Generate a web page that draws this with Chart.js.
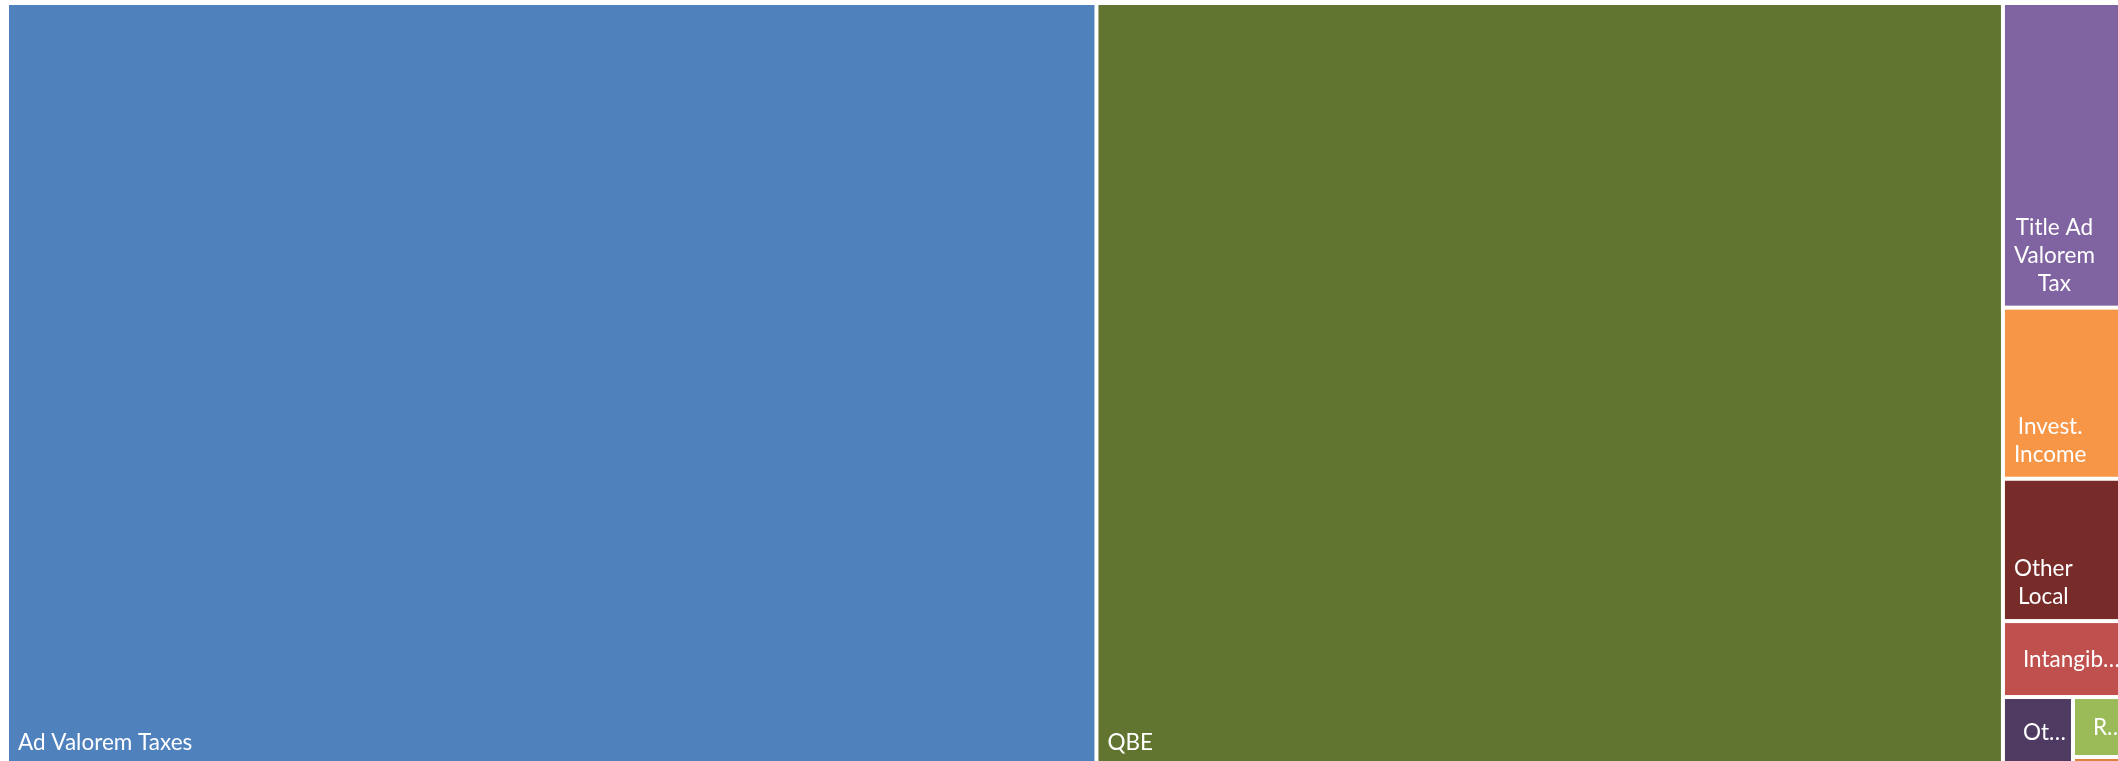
<!DOCTYPE html>
<html>
<head>
<meta charset="utf-8">
<script src="https://cdn.jsdelivr.net/npm/chart.js@4.4.1/dist/chart.umd.min.js"></script>
<style>
  html, body { margin: 0; padding: 0; background: #fff; overflow: hidden; }
  #wrap { width: 2118px; height: 761px; position: relative; }
</style>
</head>
<body>
<div id="wrap"><canvas id="c"></canvas></div>
<script>
const LABELS = ["Ad Valorem Taxes", "QBE", "Title Ad Valorem Tax", "Invest. Income", "Other Local", "Intangib…", "Ot…", "R…", ""];
const VALUES = [8324, 6926, 381, 214, 178, 95, 49, 33, 5.5];
const COLORS = ["#4F81BD", "#617530", "#8064A2", "#F79646", "#772C2A", "#C0504D", "#4F3A62", "#9BBB59", "#E0803C"];

// treemap frame in axis units; the right / bottom edge runs past the visible range
const FRAME = { x: 7, y: 3, w: 2121, h: 764 };
const X_RANGE = [0, 2118];
const Y_RANGE = [0, 761];

const $ = (id) => document.getElementById(id);

function worst(row, side) {
  const s = row.reduce((a, b) => a + b, 0);
  let m = 0;
  for (const r of row) {
    m = Math.max(m, (side * side * r) / (s * s), (s * s) / (side * side * r));
  }
  return m;
}

// plain squarified layout
function squarify(values, frame) {
  const total = values.reduce((a, b) => a + b, 0);
  const k = (frame.w * frame.h) / total;
  const areas = values.map(v => v * k);
  let { x, y, w, h } = frame;
  const rects = [];
  let i = 0;
  while (i < areas.length) {
    const side = Math.min(w, h);
    const row = [areas[i]];
    let j = i + 1;
    while (j < areas.length && worst([...row, areas[j]], side) <= worst(row, side)) {
      row.push(areas[j]);
      j++;
    }
    const thick = row.reduce((a, b) => a + b, 0) / side;
    if (w >= h) {
      let yy = y;
      row.forEach(a => { const hh = a / thick; rects.push({ x, y: yy, w: thick, h: hh }); yy += hh; });
      x += thick; w -= thick;
    } else {
      let xx = x;
      row.forEach(a => { const ww = a / thick; rects.push({ x: xx, y, w: ww, h: thick }); xx += ww; });
      y += thick; h -= thick;
    }
    i = j;
  }
  return rects;
}

function wrap(ctx, text, maxW) {
  const words = text.split(" ");
  const lines = [];
  let cur = "";
  words.forEach(wd => {
    const t = cur ? cur + " " + wd : wd;
    if (cur && ctx.measureText(t).width > maxW) { lines.push(cur); cur = wd; }
    else cur = t;
  });
  if (cur) lines.push(cur);
  return lines;
}

const GAP = 2;
const FONT = "22.5px Lato";
const LINE_H = 28;

const treemapPlugin = {
  id: "treemap",
  afterDatasetsDraw(chart) {
    const { ctx, chartArea } = chart;
    const xs = chart.scales.x, ys = chart.scales.y;
    const rects = squarify(VALUES, FRAME);
    ctx.save();
    ctx.beginPath();
    ctx.rect(chartArea.left, chartArea.top, chartArea.right - chartArea.left, chartArea.bottom - chartArea.top);
    ctx.clip();
    rects.forEach((r, i) => {
      const x0 = xs.getPixelForValue(r.x) + GAP;
      const x1 = xs.getPixelForValue(r.x + r.w) - GAP;
      const y0 = ys.getPixelForValue(r.y) + GAP;
      const y1 = ys.getPixelForValue(r.y + r.h) - GAP;
      ctx.fillStyle = COLORS[i];
      ctx.fillRect(x0, y0, x1 - x0, y1 - y0);

      const label = LABELS[i];
      if (!label || y1 - y0 < 30) return;
      ctx.font = FONT;
      ctx.fillStyle = "#ffffff";
      ctx.textBaseline = "alphabetic";
      ctx.textAlign = "left";
      if (label.endsWith("…")) {
        // cut labels: one line, centred vertically
        ctx.fillText(label, x0 + 18, (y0 + y1) / 2 + 8);
        return;
      }
      const lines = wrap(ctx, label, x1 - x0 - 29);
      const widths = lines.map(l => ctx.measureText(l).width);
      const blockW = Math.max(...widths);
      const left = x0 + 9;
      let base = y1 - 15 - (lines.length - 1) * LINE_H;
      lines.forEach((l, k) => {
        ctx.fillText(l, left + (blockW - widths[k]) / 2, base);
        base += LINE_H;
      });
    });
    ctx.restore();
  }
};

new Chart($("c"), {
  type: "scatter",
  data: { datasets: [{ data: [], pointRadius: 0 }] },
  options: {
    responsive: true,
    maintainAspectRatio: false,
    animation: false,
    layout: { padding: 0 },
    scales: {
      x: { type: "linear", min: X_RANGE[0], max: X_RANGE[1], display: false },
      y: { type: "linear", min: Y_RANGE[0], max: Y_RANGE[1], reverse: true, display: false }
    },
    plugins: { legend: { display: false }, tooltip: { enabled: false } }
  },
  plugins: [treemapPlugin]
});
</script>
</body>
</html>
